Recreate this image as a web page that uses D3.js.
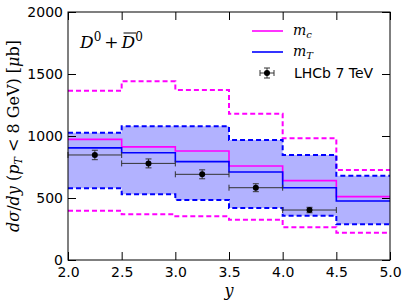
<!DOCTYPE html>
<html lang="en">
  <head>
    <meta charset="UTF-8" />
    <title>D0 rapidity</title>
    <script src="https://cdn.jsdelivr.net/npm/d3@7"></script>
    <style>
      body { margin: 0; background: #fff; }
      text { font-family: "DejaVu Sans", sans-serif; }
      .m { font-family: "DejaVu Serif", serif; font-style: italic; }
      .r { font-family: "DejaVu Serif", serif; font-style: normal; }
    </style>
  </head>
  <body>
    <svg width="407" height="306"></svg>
  </body>

  <script>
    // bin edges in rapidity
    var edges = [2.0, 2.5, 3.0, 3.5, 4.0, 4.5, 5.0];
    // m_c central + band
    var mcCentral = [973, 912, 879, 758, 640, 511];
    var mcUpper = [1365, 1441, 1371, 1180, 981, 726];
    var mcLower = [398, 368, 352, 325, 264, 220];
    // m_T central + band
    var mtCentral = [904, 865, 793, 710, 583, 476];
    var mtUpper = [1027, 1078, 1078, 968, 847, 680];
    var mtLower = [578, 530, 484, 419, 357, 288];
    // LHCb 7 TeV data
    var dataY = [2.25, 2.75, 3.25, 3.75, 4.25];
    var dataV = [847, 779, 691, 583, 403];
    var dataErr = [38, 36, 36, 32, 22];
    var xTicks = [2.0, 2.5, 3.0, 3.5, 4.0, 4.5, 5.0];
    var yTicks = [0, 500, 1000, 1500, 2000];

    var svg = d3.select('svg');
    var pL = 68, pR = 390, pT = 12, pB = 260;

    var x = d3.scaleLinear().domain([2, 5]).range([pL, pR]);
    var y = d3.scaleLinear().domain([0, 2000]).range([pB, pT]);

    // step path through bins
    function stepLine(vals) {
      var pts = [];
      vals.forEach(function (v, i) {
        pts.push([x(edges[i]), y(v)]);
        pts.push([x(edges[i + 1]), y(v)]);
      });
      return d3.line()(pts);
    }
    function stepArea(lo, hi) {
      var pts = [];
      lo.forEach(function (v, i) {
        pts.push({ x: x(edges[i]), lo: y(v), hi: y(hi[i]) });
        pts.push({ x: x(edges[i + 1]), lo: y(v), hi: y(hi[i]) });
      });
      return d3.area().x(function (d) { return d.x; }).y0(function (d) { return d.lo; }).y1(function (d) { return d.hi; })(pts);
    }

    svg.append('clipPath').attr('id', 'clip')
      .append('rect').attr('x', pL).attr('y', pT).attr('width', pR - pL).attr('height', pB - pT);
    var g = svg.append('g').attr('clip-path', 'url(#clip)');

    // blue band
    g.append('path').attr('d', stepArea(mtLower, mtUpper))
      .attr('fill', 'blue').attr('fill-opacity', 0.3);

    // dashed band edges
    [[mcUpper, '#ff00ff'], [mcLower, '#ff00ff'], [mtUpper, 'blue'], [mtLower, 'blue']].forEach(function (s) {
      g.append('path').attr('d', stepLine(s[0]))
        .attr('fill', 'none').attr('stroke', s[1]).attr('stroke-width', 2)
        .attr('stroke-dasharray', '5,3');
    });

    // central lines
    g.append('path').attr('d', stepLine(mcCentral))
      .attr('fill', 'none').attr('stroke', '#ff00ff').attr('stroke-width', 1.6);
    g.append('path').attr('d', stepLine(mtCentral))
      .attr('fill', 'none').attr('stroke', 'blue').attr('stroke-width', 1.6);

    // data with error bars
    var errCol = '#333';
    function errPoint(sel, cx, cy, dxl, dxr, dyu, dyd) {
      sel.append('line').attr('x1', dxl).attr('x2', dxr).attr('y1', cy).attr('y2', cy)
        .attr('stroke', errCol).attr('stroke-width', 1);
      sel.append('line').attr('x1', dxl).attr('x2', dxl).attr('y1', cy - 3).attr('y2', cy + 3)
        .attr('stroke', errCol).attr('stroke-width', 1);
      sel.append('line').attr('x1', dxr).attr('x2', dxr).attr('y1', cy - 3).attr('y2', cy + 3)
        .attr('stroke', errCol).attr('stroke-width', 1);
      sel.append('line').attr('x1', cx).attr('x2', cx).attr('y1', dyu).attr('y2', dyd)
        .attr('stroke', errCol).attr('stroke-width', 1);
      sel.append('line').attr('x1', cx - 3).attr('x2', cx + 3).attr('y1', dyu).attr('y2', dyu)
        .attr('stroke', errCol).attr('stroke-width', 1);
      sel.append('line').attr('x1', cx - 3).attr('x2', cx + 3).attr('y1', dyd).attr('y2', dyd)
        .attr('stroke', errCol).attr('stroke-width', 1);
      sel.append('circle').attr('cx', cx).attr('cy', cy).attr('r', 3).attr('fill', 'black');
    }
    dataY.forEach(function (d, i) {
      errPoint(svg, x(d), y(dataV[i]), x(d - 0.25), x(d + 0.25), y(dataV[i] + dataErr[i]), y(dataV[i] - dataErr[i]));
    });

    // axes with inward ticks on all sides
    var tl = 8;
    svg.append('g').attr('transform', 'translate(0,' + pB + ')')
      .call(d3.axisBottom(x).tickValues(xTicks).tickFormat(d3.format('.1f')).tickSizeInner(-tl).tickSizeOuter(0).tickPadding(7));
    svg.append('g').attr('transform', 'translate(0,' + pT + ')')
      .call(d3.axisTop(x).tickValues(xTicks).tickFormat('').tickSizeInner(-tl).tickSizeOuter(0));
    svg.append('g').attr('transform', 'translate(' + pL + ',0)')
      .call(d3.axisLeft(y).tickValues(yTicks).tickFormat(d3.format('d')).tickSizeInner(-tl).tickSizeOuter(0).tickPadding(5));
    svg.append('g').attr('transform', 'translate(' + pR + ',0)')
      .call(d3.axisRight(y).tickValues(yTicks).tickFormat('').tickSizeInner(-tl).tickSizeOuter(0));
    svg.selectAll('.tick text').attr('font-family', '"DejaVu Sans", sans-serif').attr('font-size', 14).attr('fill', '#000');
    svg.selectAll('.domain').remove();
    svg.selectAll('.tick line').attr('stroke', '#000');

    svg.append('rect').attr('x', pL).attr('y', pT).attr('width', pR - pL).attr('height', pB - pT)
      .attr('fill', 'none').attr('stroke', '#000').attr('stroke-width', 1);

    // title D0 + Dbar0
    var title = svg.append('text').attr('x', 80).attr('y', 48).attr('font-size', 17);
    title.append('tspan').attr('class', 'm').text('D');
    title.append('tspan').attr('class', 'r').attr('font-size', 12).attr('dy', -7).text('0');
    title.append('tspan').attr('class', 'r').attr('dy', 7).attr('dx', 3).text('+');
    title.append('tspan').attr('class', 'm').attr('dx', 3).text('D');
    title.append('tspan').attr('class', 'r').attr('font-size', 12).attr('dy', -7).text('0');
    var tn = title.node();
    var p0 = tn.getStartPositionOfChar(3);
    var p1 = tn.getEndPositionOfChar(3);
    svg.append('line').attr('x1', p0.x + 2).attr('x2', p1.x + 1).attr('y1', 33).attr('y2', 33)
      .attr('stroke', '#000').attr('stroke-width', 1);

    // y label
    var yl = svg.append('text').attr('transform', 'translate(19,' + (pT + pB) / 2 + ') rotate(-90)')
      .attr('text-anchor', 'middle').attr('font-size', 16);
    yl.append('tspan').attr('class', 'm').text('dσ');
    yl.append('tspan').attr('class', 'r').text('/');
    yl.append('tspan').attr('class', 'm').text('dy');
    yl.append('tspan').attr('class', 'r').text(' (');
    yl.append('tspan').attr('class', 'm').text('p');
    yl.append('tspan').attr('class', 'm').attr('font-size', 11).attr('dy', 3).text('T');
    yl.append('tspan').attr('class', 'r').attr('dy', -3).text(' < 8 GeV) [');
    yl.append('tspan').attr('class', 'm').text('μ');
    yl.append('tspan').attr('class', 'r').text('b]');

    // x label
    svg.append('text').attr('class', 'm').attr('x', (pL + pR) / 2).attr('y', 296)
      .attr('text-anchor', 'middle').attr('font-size', 16).text('y');

    // legend
    var leg = svg.append('g');
    leg.append('line').attr('x1', 252).attr('x2', 283).attr('y1', 31).attr('y2', 31)
      .attr('stroke', '#ff00ff').attr('stroke-width', 1.6);
    leg.append('line').attr('x1', 252).attr('x2', 283).attr('y1', 52).attr('y2', 52)
      .attr('stroke', 'blue').attr('stroke-width', 1.6);
    var l1 = leg.append('text').attr('x', 293).attr('y', 35).attr('font-size', 14);
    l1.append('tspan').attr('class', 'm').text('m');
    l1.append('tspan').attr('class', 'm').attr('font-size', 10).attr('dy', 3).text('c');
    var l2 = leg.append('text').attr('x', 293).attr('y', 56).attr('font-size', 14);
    l2.append('tspan').attr('class', 'm').text('m');
    l2.append('tspan').attr('class', 'm').attr('font-size', 10).attr('dy', 3).text('T');
    errPoint(leg, 267, 73, 260, 274, 68, 78);
    leg.append('text').attr('x', 294).attr('y', 78).attr('font-size', 14).text('LHCb 7 TeV');
  </script>
</html>
